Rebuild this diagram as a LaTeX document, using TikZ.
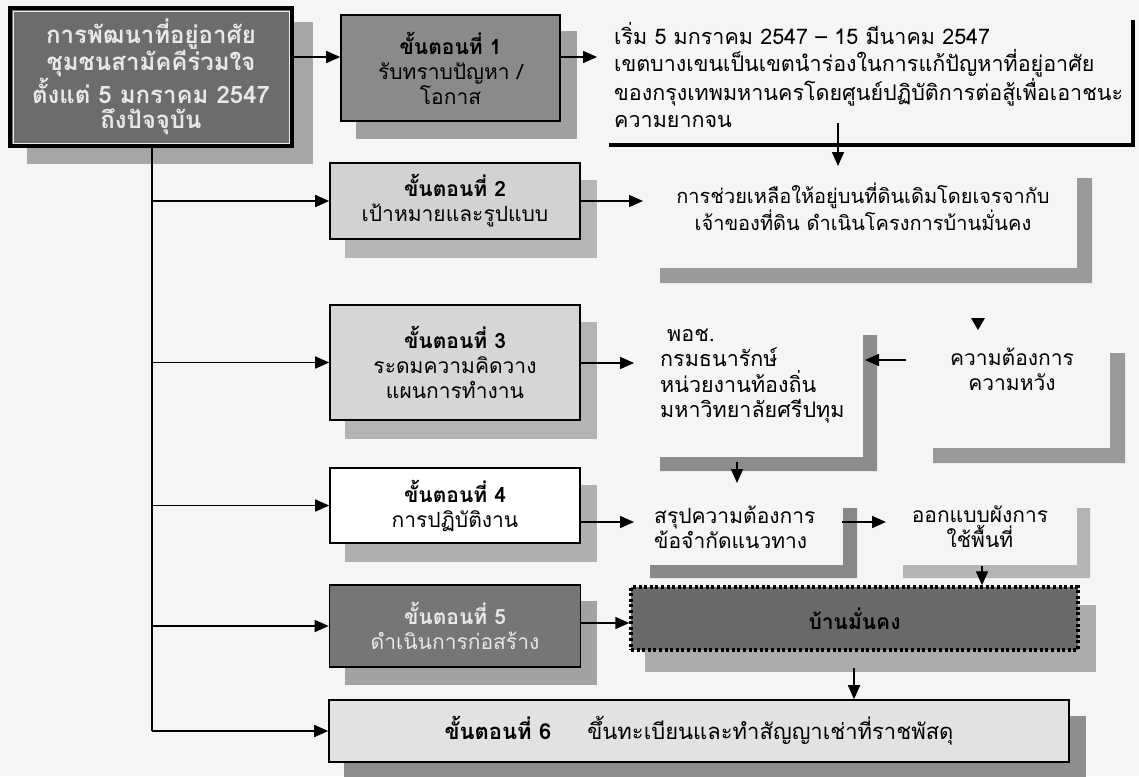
\documentclass[tikz,border=0pt]{standalone}
\usepackage{fontspec}
\setmainfont[Script=Thai]{Loma}
\usetikzlibrary{arrows.meta,calc}
\pgfdeclarelayer{bg}
\pgfsetlayers{bg,main}
\definecolor{bgc}{HTML}{F5F5F5}
\definecolor{mainfill}{HTML}{6C6C6C}
\definecolor{mainsh}{HTML}{A6A6A6}
\definecolor{sAfill}{HTML}{8A8A8A}
\definecolor{sAsh}{HTML}{A0A0A0}
\definecolor{sBfill}{HTML}{D2D2D2}
\definecolor{sBsh}{HTML}{B5B5B5}
\definecolor{sCfill}{HTML}{D6D6D6}
\definecolor{sCsh}{HTML}{B3B3B3}
\definecolor{sDsh}{HTML}{B0B0B0}
\definecolor{sEfill}{HTML}{767676}
\definecolor{sEsh}{HTML}{A2A2A2}
\definecolor{sFfill}{HTML}{E2E2E2}
\definecolor{sFsh}{HTML}{8E8E8E}
\definecolor{hfill}{HTML}{6A6A6A}
\definecolor{hsh}{HTML}{ACACAC}
\definecolor{lighttext}{HTML}{E8E8E8}
\definecolor{LB}{HTML}{9A9A9A}
\definecolor{LC}{HTML}{8C8C8C}
\definecolor{LD}{HTML}{999999}
\definecolor{LE}{HTML}{888888}
\definecolor{LF}{HTML}{B4B4B4}
\begin{document}
\begin{tikzpicture}[x=1pt,y=-1pt,
  box/.style={draw=black,line width=1.6pt,inner sep=0pt,align=center,
    font=\fontsize{21}{25}\selectfont},
  arr/.style={line width=1.6pt,-{Triangle[length=14pt,width=12pt]}},
  plain/.style={line width=1.6pt},
  txt/.style={inner sep=0pt,font=\fontsize{21}{25}\selectfont},
]
\begin{pgfonlayer}{bg}
\fill[bgc] (0,0) rectangle (1139,776);
\end{pgfonlayer}
\useasboundingbox (0,0) rectangle (1139,776);

% boxes
\node[box,line width=4pt,fill=mainfill,text=lighttext,minimum width=282pt,minimum height=138pt,
  font=\fontsize{24}{25.5}\selectfont\bfseries] (main) at (151,77)
  {การพัฒนาที่อยู่อาศัย\\ชุมชนสามัคคีร่วมใจ\\ตั้งแต่ 5 มกราคม 2547\\ถึงปัจจุบัน};
\draw[white!85!gray,line width=0.8pt] ($(main.north west)+(5,5)$) rectangle ($(main.south east)+(-5,-5)$);

\node[box,fill=sAfill,minimum width=219pt,minimum height=106pt] (s1) at (450.5,68)
  {\textbf{ขั้นตอนที่ 1}\\รับทราบปัญหา /\\โอกาส};
\node[box,fill=sBfill,minimum width=250pt,minimum height=76pt] (s2) at (455,201)
  {\textbf{ขั้นตอนที่ 2}\\เป้าหมายและรูปแบบ};
\node[box,fill=sCfill,minimum width=250pt,minimum height=115pt] (s3) at (455,362.5)
  {\textbf{ขั้นตอนที่ 3}\\ระดมความคิดวาง\\แผนการทำงาน};
\node[box,fill=white,minimum width=250pt,minimum height=75pt] (s4) at (455,505.5)
  {\textbf{ขั้นตอนที่ 4}\\การปฏิบัติงาน};
\node[box,fill=sEfill,text=lighttext,minimum width=251pt,minimum height=82pt] (s5) at (455,626)
  {\textbf{ขั้นตอนที่ 5}\\ดำเนินการก่อสร้าง};
\node[box,fill=sFfill,minimum width=740pt,minimum height=62pt,font=\fontsize{22}{25}\selectfont] (s6) at (699,731)
  {\textbf{ขั้นตอนที่ 6}\hspace{36pt}ขึ้นทะเบียนและทำสัญญาเช่าที่ราชพัสดุ};
\node[box,fill=hfill,line width=3.5pt,dash pattern=on 3pt off 2.6pt,minimum width=447pt,minimum height=63pt] (house) at (854.5,618.5)
  {\textbf{บ้านมั่นคง}};

% shadows
\begin{pgfonlayer}{bg}
\fill[mainsh] ($(main.north west)+(19,16)$) rectangle ($(main.south east)+(19,16)$);
\fill[sAsh] ($(s1.north west)+(16,17)$) rectangle ($(s1.south east)+(16,17)$);
\fill[sBsh] ($(s2.north west)+(16,18)$) rectangle ($(s2.south east)+(16,18)$);
\fill[sCsh] ($(s3.north west)+(16,18)$) rectangle ($(s3.south east)+(16,18)$);
\fill[sDsh] ($(s4.north west)+(16,18)$) rectangle ($(s4.south east)+(16,18)$);
\fill[sEsh] ($(s5.north west)+(16,17)$) rectangle ($(s5.south east)+(16,17)$);
\fill[sFsh] ($(s6.north west)+(16,17)$) rectangle ($(s6.south east)+(16,17)$);
\fill[hsh] ($(house.north west)+(16,20)$) rectangle ($(house.south east)+(16,20)$);
\end{pgfonlayer}

% text blocks
\node[txt,align=left,anchor=west,font=\fontsize{21.5}{27.3}\selectfont] (t1) at (614,75)
  {เริ่ม 5 มกราคม 2547 – 15 มีนาคม 2547\\เขตบางเขนเป็นเขตนำร่องในการแก้ปัญหาที่อยู่อาศัย\\ของกรุงเทพมหานครโดยศูนย์ปฏิบัติการต่อสู้เพื่อเอาชนะ\\ความยากจน};
\node[txt,align=center,font=\fontsize{20}{25}\selectfont] (t2) at (863,207)
  {การช่วยเหลือให้อยู่บนที่ดินเดิมโดยเจรจากับ\\เจ้าของที่ดิน ดำเนินโครงการบ้านมั่นคง};
\node[txt,align=left,anchor=west,font=\fontsize{21.5}{25.5}\selectfont] (t3) at (660,376)
  {\hspace*{7pt}พอช.\\กรมธนารักษ์\\หน่วยงานท้องถิ่น\\มหาวิทยาลัยศรีปทุม};
\node[txt,align=center] (t4) at (1012,369) {ความต้องการ\\ความหวัง};
\node[txt,align=left,anchor=west] (t5) at (654,527) {สรุปความต้องการ\\ข้อจำกัดแนวทาง};
\node[txt,align=center] (t6) at (980,527) {ออกแบบผังการ\\ใช้พื้นที่};

% frame and L-shaped shadows
\draw[line width=4pt] (1133,20) -- (1133,145) -- (609,145);
\fill[LB] (1077,178) -- (1092,178) -- (1092,283) -- (660,283) -- (660,268) -- (1077,268) -- cycle;
\fill[LC] (863,335) -- (877,335) -- (877,471) -- (660,471) -- (660,457) -- (863,457) -- cycle;
\fill[LD] (1110,353) -- (1125,353) -- (1125,463) -- (933,463) -- (933,448) -- (1110,448) -- cycle;
\fill[LE] (843,508) -- (857,508) -- (857,578) -- (650,578) -- (650,565) -- (843,565) -- cycle;
\fill[LF] (1077,508) -- (1090,508) -- (1090,578) -- (903,578) -- (903,565) -- (1077,565) -- cycle;

% coordinates
\coordinate (a1) at (0,57);
\coordinate (t1in) at (597,57);
\coordinate (d1s) at (838,123);
\coordinate (d1e) at (838,166);
\coordinate (tr) at (152,731);
\coordinate (t2in) at (643,201);
\coordinate (t3in) at (634,363);
\coordinate (t4s) at (906,360);
\coordinate (t4e) at (865,360);
\coordinate (L3s) at (737,462);
\coordinate (L3e) at (737,483);
\coordinate (a4) at (0,522);
\coordinate (t5in) at (634,522);
\coordinate (t5s) at (842,522);
\coordinate (t6in) at (886,522);
\coordinate (L6s) at (982,566);
\coordinate (a5) at (0,623);
\coordinate (hs) at (854,668);

% connectors
\draw[arr] (main.east |- a1) -- (s1.west |- a1);
\draw[arr] (s1.east |- a1) -- (t1in);
\draw[arr] (d1s) -- (d1e);
\draw[plain] (main.south -| tr) -- (tr);
\draw[arr] (tr |- s2.west) -- (s2.west);
\draw[arr] (tr |- s3.west) -- (s3.west);
\draw[arr] (tr |- s4.west) -- (s4.west);
\draw[arr] (tr |- s5.west) -- (s5.west);
\draw[arr] (tr) -- (s6.west);
\draw[arr] (s2.east) -- (t2in);
\draw[arr] (s3.east |- t3in) -- (t3in);
\draw[arr] (t4s) -- (t4e);
\fill (971,318) -- (985,318) -- (978,330) -- cycle;
\draw[arr] (L3s) -- (L3e);
\draw[arr] (s4.east |- a4) -- (t5in);
\draw[arr] (t5s) -- (t6in);
\draw[arr] (L6s) -- (house.north -| L6s);
\draw[arr] (s5.east |- a5) -- (house.west |- a5);
\draw[arr] (hs) -- (s6.north -| hs);
\end{tikzpicture}
\end{document}
